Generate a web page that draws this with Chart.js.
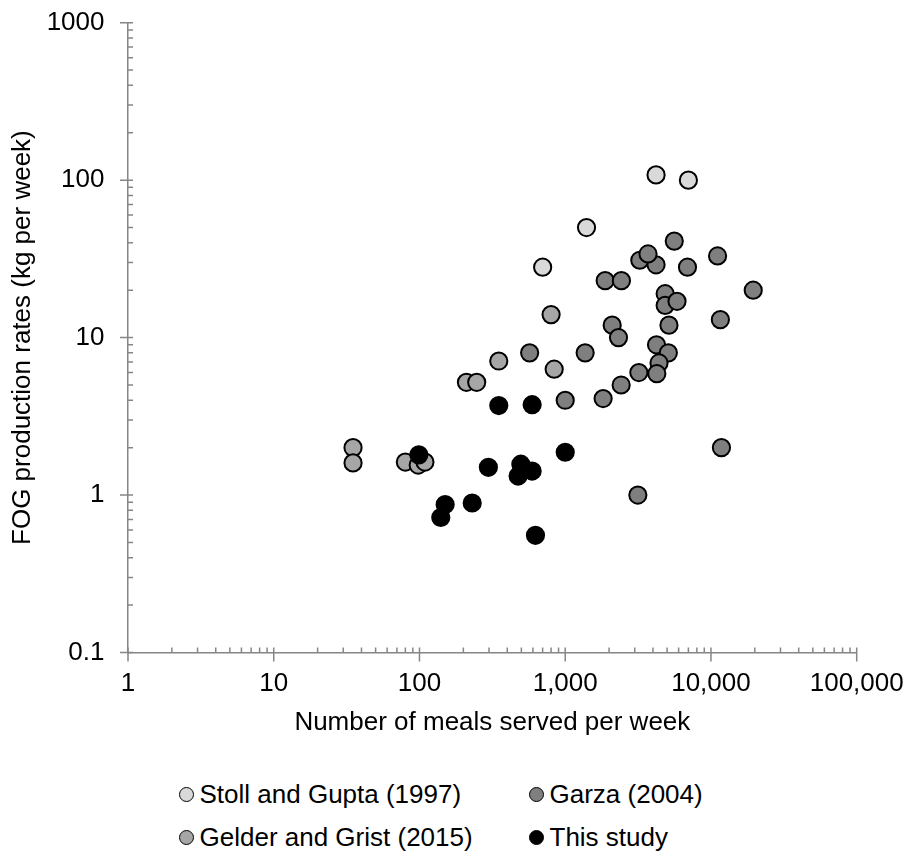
<!DOCTYPE html>
<html>
<head>
<meta charset="utf-8">
<script src="https://cdn.jsdelivr.net/npm/chart.js@4.4.1/dist/chart.umd.min.js"></script>
<style>
  body { margin: 0; background: #fff; }
  #wrap { position: relative; width: 907px; height: 852px; font-family: "Liberation Sans", Arial, sans-serif; }
  #box { position: absolute; left: 0; top: 0; width: 907px; height: 740px; }
  .item { position: absolute; display: flex; align-items: center; height: 32px; font-size: 26px; color: #000; white-space: nowrap; }
  .dot { width: 13px; height: 13px; border: 1.5px solid #000; border-radius: 50%; margin-right: 5.5px; }
</style>
</head>
<body>
<div id="wrap">
  <div id="box"><canvas id="myChart"></canvas></div>
  <div id="legend"></div>
</div>
<script>
const xTicks = [1, 10, 100, 1000, 10000, 100000];
const yTicks = [0.1, 1, 10, 100, 1000];

const seriesNames = ["Stoll and Gupta (1997)", "Garza (2004)", "Gelder and Grist (2015)", "This study"];
const seriesColors = ["#d9d9d9", "#7f7f7f", "#a6a6a6", "#000000"];

// meals served per week / FOG in kg per week
const stollMeals = [700, 1400, 4200, 7000];
const stollFog = [28, 50, 108, 100];

const garzaMeals = [570, 1370, 1000, 1820, 5600, 3250, 4200, 3700, 6900, 11100, 1880, 2430, 19500, 4850,
  4850, 5850, 2100, 2320, 5150, 11600, 4230, 5100, 4400, 4250, 3200, 2420, 11800, 3150];
const garzaFog = [8, 8, 4, 4.1, 41, 31, 29, 34, 28, 33, 23, 23, 20, 19,
  16, 17, 12, 10, 12, 13, 9, 8, 6.9, 5.9, 6, 5, 2, 1.0];

const gelderMeals = [800, 350, 840, 210, 247, 35, 35, 80, 98, 109];
const gelderFog = [14, 7.1, 6.3, 5.2, 5.2, 2, 1.6, 1.62, 1.55, 1.62];

const studyMeals = [350, 593, 99, 297, 496, 593, 475, 1000, 150, 140, 230, 625];
const studyFog = [3.7, 3.75, 1.8, 1.5, 1.57, 1.42, 1.32, 1.87, 0.87, 0.72, 0.89, 0.555];

const axisColor = "#868686";
const font = { family: '"Liberation Sans", Arial, sans-serif', size: 26 };

function pts(xs, ys) {
  return xs.map((v, i) => ({ x: v, y: ys[i] }));
}

const seriesData = [
  pts(stollMeals, stollFog),
  pts(garzaMeals, garzaFog),
  pts(gelderMeals, gelderFog),
  pts(studyMeals, studyFog)
];

// major ticks cross the axis, minor ticks sit inside the plot
const axisTicks = {
  id: "axisTicks",
  beforeDatasetsDraw(chart) {
    const { ctx, chartArea: a, scales: { x, y } } = chart;
    ctx.save();
    ctx.strokeStyle = axisColor;
    ctx.lineWidth = 1.5;
    ctx.beginPath();
    xTicks.forEach((v, i) => {
      const px = x.getPixelForValue(v);
      ctx.moveTo(px, a.bottom - 5);
      ctx.lineTo(px, a.bottom + 9);
      if (i < xTicks.length - 1) {
        for (let k = 2; k < 10; k++) {
          const m = x.getPixelForValue(v * k);
          ctx.moveTo(m, a.bottom - 5);
          ctx.lineTo(m, a.bottom);
        }
      }
    });
    yTicks.forEach((v, i) => {
      const py = y.getPixelForValue(v);
      ctx.moveTo(a.left - 8, py);
      ctx.lineTo(a.left + 5, py);
      if (i < yTicks.length - 1) {
        for (let k = 2; k < 10; k++) {
          const m = y.getPixelForValue(v * k);
          ctx.moveTo(a.left, m);
          ctx.lineTo(a.left + 5, m);
        }
      }
    });
    ctx.stroke();
    ctx.restore();
  }
};

// two-column legend under the chart
const legendLeft = [179, 529];
const legendMid = [794, 837];
const htmlLegend = {
  id: "htmlLegend",
  afterUpdate(chart) {
    const box = document.getElementById("legend");
    box.innerHTML = "";
    chart.data.datasets.forEach((ds, i) => {
      const item = document.createElement("div");
      item.className = "item";
      item.style.left = legendLeft[i % 2] + "px";
      item.style.top = (legendMid[Math.floor(i / 2)] - 16) + "px";
      const dot = document.createElement("span");
      dot.className = "dot";
      dot.style.background = ds.backgroundColor;
      const txt = document.createElement("span");
      txt.textContent = ds.label;
      item.appendChild(dot);
      item.appendChild(txt);
      box.appendChild(item);
    });
  }
};

const ctx = document.getElementById("myChart").getContext("2d");
const myChart = new Chart(ctx, {
  type: "scatter",
  data: {
    datasets: seriesNames.map((name, i) => ({
      label: name,
      data: seriesData[i],
      backgroundColor: seriesColors[i],
      borderColor: "#000000",
      borderWidth: 2,
      pointRadius: 8.6,
      order: seriesNames.length - i
    }))
  },
  options: {
    responsive: true,
    maintainAspectRatio: false,
    animation: false,
    events: [],
    layout: { padding: { left: 0, right: 50.3, top: 22.7, bottom: 0 } },
    plugins: {
      legend: { display: false },
      tooltip: { enabled: false }
    },
    scales: {
      x: {
        type: "logarithmic",
        min: 1,
        max: 100000,
        afterBuildTicks: (s) => { s.ticks = xTicks.map(v => ({ value: v })); },
        afterFit: (s) => {
          s.height = 87.5;
          s.paddingLeft = 0;
          s.paddingRight = 0;
        },
        grid: { display: true, drawOnChartArea: false, drawTicks: false, color: "rgba(0,0,0,0)" },
        border: { display: true, color: axisColor, width: 1.5 },
        ticks: {
          autoSkip: false,
          maxRotation: 0,
          padding: 16,
          color: "#000",
          font: font,
          callback: (v) => Number(v).toLocaleString("en-US")
        },
        title: {
          display: true,
          text: "Number of meals served per week",
          color: "#000",
          font: font,
          padding: { top: 0, bottom: 2 }
        }
      },
      y: {
        type: "logarithmic",
        min: 0.1,
        max: 1000,
        afterBuildTicks: (s) => { s.ticks = yTicks.map(v => ({ value: v })); },
        afterFit: (s) => {
          s.width = 128;
          s.paddingTop = 0;
          s.paddingBottom = 0;
        },
        grid: { display: true, drawOnChartArea: false, drawTicks: false, color: "rgba(0,0,0,0)" },
        border: { display: true, color: axisColor, width: 1.5 },
        ticks: {
          autoSkip: false,
          padding: 23.5,
          color: "#000",
          font: font,
          callback: (v) => String(v)
        },
        title: {
          display: true,
          text: "FOG production rates (kg per week)",
          color: "#000",
          font: font,
          padding: { top: 7.5, bottom: 0 }
        }
      }
    }
  },
  plugins: [axisTicks, htmlLegend]
});
</script>
</body>
</html>
